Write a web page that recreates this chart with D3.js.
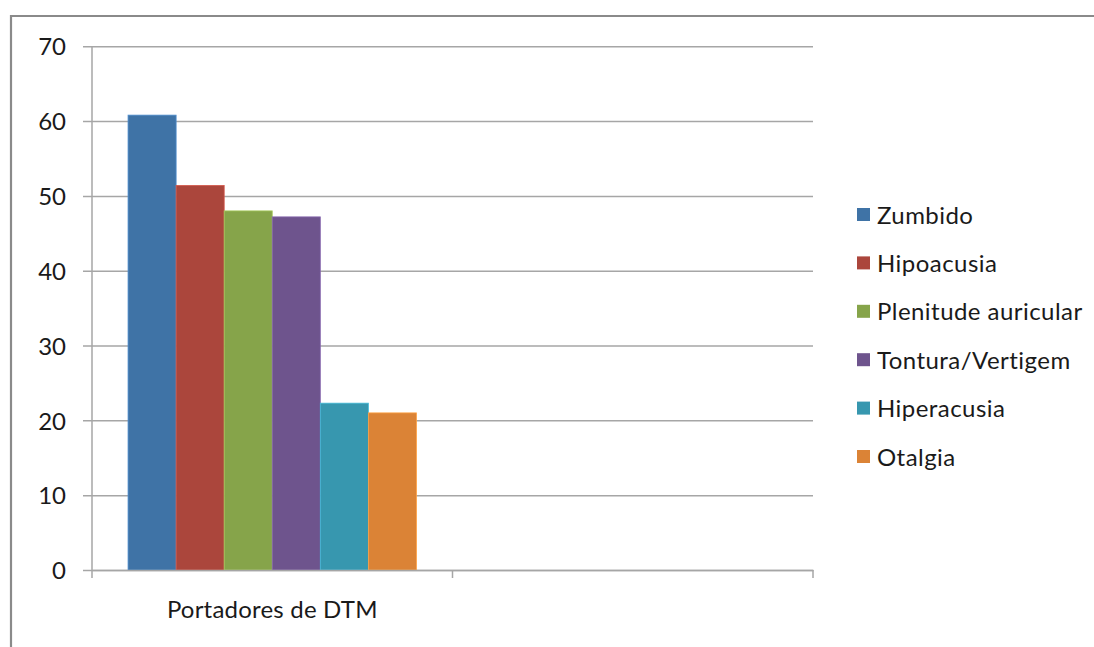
<!DOCTYPE html>
<html>
<head>
<meta charset="utf-8">
<script src="https://cdn.jsdelivr.net/npm/d3@7"></script>
<style>
  html, body { margin: 0; padding: 0; background: #fff; }
  svg text { font-family: Lato, "Open Sans", sans-serif; fill: #1a1a1a; }
</style>
</head>
<body>
<svg id="chart" width="1094" height="647"></svg>
<script>
// Symptom frequencies among TMD patients
const categories = ["Portadores de DTM", ""];
const seriesNames = ["Zumbido", "Hipoacusia", "Plenitude auricular", "Tontura/Vertigem", "Hiperacusia", "Otalgia"];
const seriesValues = [60.8, 51.4, 48.0, 47.2, 22.3, 21.0];
const seriesColors = ["#3f73a6", "#ab463c", "#86a44a", "#6e548d", "#3797af", "#db8336"];
const yTicks = [0, 10, 20, 30, 40, 50, 60, 70];

const fontSize = 24;
const svg = d3.select("#chart");

// outer frame
svg.append("path")
  .attr("d", "M11,647 L11,16 L1094,16")
  .attr("fill", "none")
  .attr("stroke", "#8a8a8a")
  .attr("stroke-width", 2.2);

const plot = { left: 92, right: 813, top: 46.3, bottom: 570 };

const y = d3.scaleLinear().domain([0, 70]).range([plot.bottom, plot.top]);
const x0 = d3.scaleBand().domain(categories).range([plot.left, plot.right]).padding(0);
// gap width of 150% of a bar: 6 bars + 1.5 bar-widths of gap per category
const barW = x0.bandwidth() / (seriesNames.length + 1.5);
const x1 = d3.scaleBand().domain(seriesNames)
  .range([barW * 0.75, barW * 0.75 + barW * seriesNames.length]).padding(0);

// gridlines
const yAxis = d3.axisLeft(y).tickValues(yTicks).tickSize(-(plot.right - plot.left)).tickSizeOuter(0).tickPadding(26);
const gy = svg.append("g").attr("transform", `translate(${plot.left},0)`).call(yAxis);
gy.select(".domain").remove();
gy.selectAll(".tick line")
  .attr("x1", -9)
  .attr("stroke", "#a6a6a6").attr("stroke-width", 1.5);
gy.selectAll(".tick text")
  .attr("font-size", fontSize).attr("dy", "0.36em");

// bars
const bars = svg.append("g").attr("transform", `translate(${x0(categories[0])},0)`);
bars.selectAll("rect")
  .data(seriesNames.map((n, i) => ({ name: n, value: seriesValues[i], color: seriesColors[i] })))
  .join("rect")
  .attr("x", d => x1(d.name))
  .attr("y", d => y(d.value))
  .attr("width", x1.bandwidth())
  .attr("height", d => y(0) - y(d.value))
  .attr("fill", d => d.color)
  .attr("stroke", d => d3.color(d.color).brighter(0.6))
  .attr("stroke-width", 0.8);

// y axis line
svg.append("line")
  .attr("x1", plot.left).attr("x2", plot.left)
  .attr("y1", plot.top).attr("y2", plot.bottom)
  .attr("stroke", "#a6a6a6").attr("stroke-width", 1.5);

// x axis
const xAxis = d3.axisBottom(x0).tickSize(0).tickPadding(31);
const gx = svg.append("g").attr("transform", `translate(0,${plot.bottom})`).call(xAxis);
gx.select(".domain").attr("stroke", "#a6a6a6").attr("stroke-width", 1.5);
gx.selectAll(".tick line").remove();
gx.selectAll(".tick text").attr("font-size", fontSize).attr("letter-spacing", 0.2);
// category boundary ticks
const boundaries = categories.map(c => x0(c)).concat([x0.range()[1]]);
gx.selectAll(".bound").data(boundaries).join("line")
  .attr("class", "bound")
  .attr("x1", d => d).attr("x2", d => d)
  .attr("y1", 0).attr("y2", 8)
  .attr("stroke", "#a6a6a6").attr("stroke-width", 1.5);

// legend
const legend = svg.append("g").attr("transform", "translate(857,215)");
const rows = legend.selectAll("g").data(seriesNames).join("g")
  .attr("transform", (d, i) => `translate(0,${i * 48.4})`);
rows.append("rect")
  .attr("x", 0).attr("y", -7).attr("width", 13).attr("height", 13)
  .attr("fill", (d, i) => seriesColors[i]);
rows.append("text")
  .attr("x", 20).attr("y", 0).attr("dy", "0.36em")
  .attr("font-size", fontSize)
  .attr("letter-spacing", 0.45)
  .text(d => d);
</script>
</body>
</html>
